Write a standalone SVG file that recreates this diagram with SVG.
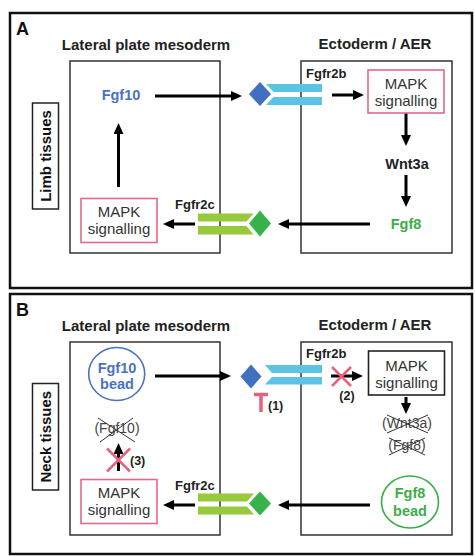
<svg xmlns="http://www.w3.org/2000/svg" width="475" height="556" viewBox="0 0 475 556">
<defs>
<style>
text{font-family:"Liberation Sans",Arial,sans-serif;}
.panel{fill:none;stroke:#111;stroke-width:2.5;}
.box{fill:none;stroke:#333;stroke-width:1.5;}
.pbox{fill:#fff;stroke:#e06a85;stroke-width:1.6;}
.kbox{fill:#fff;stroke:#222;stroke-width:1.6;}
.title{font-size:15px;font-weight:bold;fill:#222;text-anchor:middle;}
.lbl{font-size:18px;font-weight:bold;fill:#111;}
.side{font-size:15px;font-weight:bold;fill:#111;text-anchor:middle;}
.rec{font-size:13px;font-weight:bold;fill:#222;}
.mapk{font-size:15px;fill:#333;text-anchor:middle;}
.gene{font-size:14.5px;font-weight:bold;text-anchor:middle;}
.blue{fill:#4a73bf;}
.green{fill:#3cae4a;}
.blk{fill:#222;}
.off{font-size:14px;fill:#444;text-anchor:middle;}
.num{font-size:12.5px;font-weight:bold;fill:#222;}
.arr{stroke:#000;stroke-width:3;fill:none;marker-end:url(#ah);}
.xr{stroke:#e8607e;stroke-width:2.5;}
.xk{stroke:#333;stroke-width:1;}
.cyan{fill:#5cc3e3;}
.lime{fill:#98c93c;}
.dblue{fill:#4170c0;}
.dgreen{fill:#37b34a;}
</style>
<marker id="ah" markerWidth="11" markerHeight="10" refX="6" refY="5" orient="auto" markerUnits="userSpaceOnUse">
<path d="M0,0 L11,5 L0,10 z" fill="#000"/>
</marker>
</defs>

<g id="panelA">
<rect class="panel" x="10" y="13" width="462" height="275"/>
<text class="lbl" x="16" y="35">A</text>
<text class="title" x="146" y="50">Lateral plate mesoderm</text>
<text class="title" x="375" y="49">Ectoderm / AER</text>
</g>
<g id="limbLabel">
<rect class="box" x="32.5" y="103" width="26" height="106" style="stroke:#222"/>
<text class="side" transform="translate(51,156) rotate(-90)">Limb tissues</text>
</g>
<g id="A_lpm"><rect class="box" x="70" y="61" width="150" height="192"/></g>
<g id="A_ect"><rect class="box" x="301" y="61" width="151" height="192"/></g>

<g id="A_connectors">
<line class="arr" x1="155" y1="96" x2="237" y2="96"/>
<line class="arr" x1="332" y1="95" x2="359" y2="95"/>
<line class="arr" x1="406" y1="113" x2="406" y2="141"/>
<line class="arr" x1="406" y1="175" x2="406" y2="202"/>
<line class="arr" x1="370" y1="224" x2="283" y2="224"/>
<line class="arr" x1="195" y1="224" x2="168" y2="224"/>
<line class="arr" x1="118.5" y1="187" x2="118.5" y2="128"/>
</g>

<g id="A_fgf10"><text class="gene blue" x="121" y="100">Fgf10</text></g>
<g id="A_fgfr2b">
<polygon class="dblue" points="260,82 271,94 260,106 249,94"/>
<polygon class="cyan" points="266,84 322,84 322,92 273.5,92"/>
<polygon class="cyan" points="273.5,97 322,97 322,105 266,105"/>
<text class="rec" x="306" y="78">Fgfr2b</text>
</g>
<g id="A_mapkR">
<rect class="pbox" x="368" y="70" width="76" height="43"/>
<text class="mapk" x="406" y="89">MAPK</text>
<text class="mapk" x="406" y="106">signalling</text>
</g>
<g id="A_wnt3a"><text class="gene blk" x="407" y="169">Wnt3a</text></g>
<g id="A_fgf8"><text class="gene green" x="406" y="229">Fgf8</text></g>
<g id="A_fgfr2c">
<polygon class="lime" points="198,213.5 253.5,213.5 246.5,221.5 198,221.5"/>
<polygon class="lime" points="198,226 246.5,226 253.5,234.5 198,234.5"/>
<polygon class="dgreen" points="260,210.5 271,223.5 260,236.5 249,223.5"/>
<text class="rec" x="175" y="209">Fgfr2c</text>
</g>
<g id="A_mapkL">
<rect class="pbox" x="81" y="198.5" width="76" height="44"/>
<text class="mapk" x="119" y="217">MAPK</text>
<text class="mapk" x="119" y="234">signalling</text>
</g>

<g id="panelB">
<rect class="panel" x="10" y="294" width="462" height="260"/>
<text class="lbl" x="16" y="316">B</text>
<text class="title" x="146" y="331">Lateral plate mesoderm</text>
<text class="title" x="375" y="330">Ectoderm / AER</text>
</g>
<g id="neckLabel">
<rect class="box" x="32.5" y="383.5" width="26" height="106.5" style="stroke:#222"/>
<text class="side" transform="translate(51,436.7) rotate(-90)">Neck tissues</text>
</g>
<g id="B_lpm"><rect class="box" x="70" y="342" width="150" height="193"/></g>
<g id="B_ect"><rect class="box" x="301" y="342" width="151" height="193"/></g>

<g id="B_connectors">
<line class="arr" x1="155" y1="376" x2="226" y2="376"/>
<line class="arr" x1="331" y1="376" x2="358" y2="376"/>
<line class="arr" x1="406" y1="397" x2="406" y2="409"/>
<line class="arr" x1="370" y1="505" x2="283" y2="505"/>
<line class="arr" x1="195" y1="505" x2="168" y2="505"/>
<line class="arr" x1="118.5" y1="471" x2="118.5" y2="448"/>
</g>

<g id="B_fgf10bead">
<ellipse cx="116.7" cy="374" rx="28" ry="26.5" fill="#fff" stroke="#4a73bf" stroke-width="1.6"/>
<text class="gene blue" x="117" y="372.5">Fgf10</text>
<text class="gene blue" x="117" y="389">bead</text>
</g>
<g id="B_fgfr2b">
<polygon class="dblue" points="251,364.5 261.5,376.5 251,388.5 240.5,376.5"/>
<polygon class="cyan" points="265,365 322,365 322,373 272,373"/>
<polygon class="cyan" points="272,377 322,377 322,384.5 265,384.5"/>
<text class="rec" x="306" y="358">Fgfr2b</text>
</g>
<g id="B_inhib1">
<line x1="261" y1="393" x2="261" y2="412" stroke="#e8607e" stroke-width="3.5"/>
<line x1="254" y1="394.5" x2="268" y2="394.5" stroke="#e8607e" stroke-width="3.5"/>
<text class="num" x="268" y="410">(1)</text>
</g>
<g id="B_block2">
<line class="xr" x1="332" y1="367" x2="351" y2="386"/>
<line class="xr" x1="332" y1="386" x2="351" y2="367"/>
<text class="num" x="347" y="400" text-anchor="middle">(2)</text>
</g>
<g id="B_mapkR">
<rect class="kbox" x="368.5" y="351" width="76" height="44"/>
<text class="mapk" x="406.5" y="371">MAPK</text>
<text class="mapk" x="406.5" y="388">signalling</text>
</g>
<g id="B_wnt3a">
<text class="off" x="407" y="428">(Wnt3a)</text>
<line class="xk" x1="387" y1="415" x2="428" y2="433"/>
<line class="xk" x1="387" y1="433" x2="428" y2="415"/>
</g>
<g id="B_fgf8">
<text class="off" x="407" y="450">(Fgf8)</text>
<line class="xk" x1="389" y1="438" x2="425" y2="455"/>
<line class="xk" x1="389" y1="455" x2="425" y2="438"/>
</g>
<g id="B_fgf8bead">
<ellipse cx="410" cy="502" rx="28.5" ry="26" fill="#fff" stroke="#3cae4a" stroke-width="1.6"/>
<text class="gene green" x="410" y="498">Fgf8</text>
<text class="gene green" x="410" y="516">bead</text>
</g>
<g id="B_fgfr2c">
<polygon class="lime" points="198,493.5 254,493.5 247,501.5 198,501.5"/>
<polygon class="lime" points="198,506.5 247,506.5 254,514.5 198,514.5"/>
<polygon class="dgreen" points="260,491.5 271,503.5 260,515.5 249,503.5"/>
<text class="rec" x="175" y="490">Fgfr2c</text>
</g>
<g id="B_mapkL">
<rect class="pbox" x="81" y="479.5" width="76" height="44"/>
<text class="mapk" x="119" y="497.5">MAPK</text>
<text class="mapk" x="119" y="514.5">signalling</text>
</g>
<g id="B_block3">
<line class="xr" x1="107" y1="448.5" x2="130" y2="471.5"/>
<line class="xr" x1="107" y1="471.5" x2="130" y2="448.5"/>
<text class="num" x="130" y="465">(3)</text>
</g>
<g id="B_fgf10">
<text class="off" x="117" y="433">(Fgf10)</text>
<line class="xk" x1="98" y1="418" x2="135" y2="442"/>
<line class="xk" x1="100" y1="442" x2="133" y2="418"/>
</g>
</svg>
